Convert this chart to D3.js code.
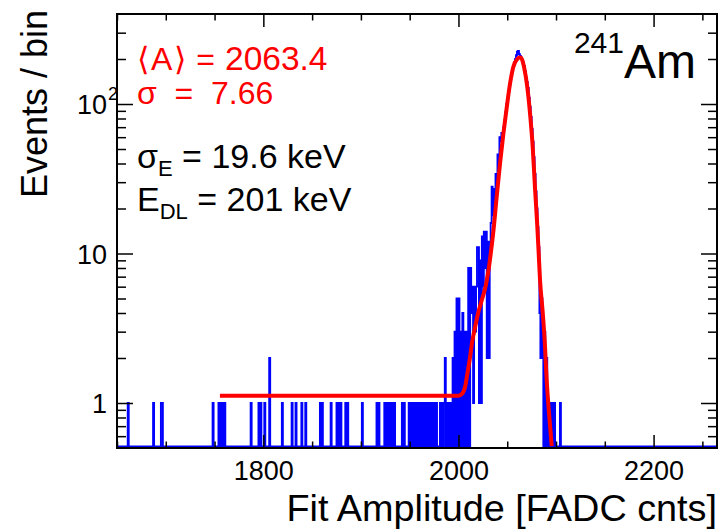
<!DOCTYPE html>
<html><head><meta charset="utf-8">
<script src="https://cdn.jsdelivr.net/npm/d3@7"></script>
<style>
body{margin:0;background:#fff;}
svg text{font-family:"Liberation Sans",Arial,Helvetica,sans-serif;}
</style></head><body>
<svg id="c" width="721" height="531"></svg>
<script>
// ---- data ----
const xDomain = [1650, 2265];
const yDomain = [0.5, 400];
const xMajorTicks = [1800, 2000, 2200];
const xMinorTicks = [1650, 1700, 1750, 1850, 1900, 1950, 2050, 2100, 2150, 2250];
const yMajorTicks = [1, 10, 100];
const yMinorTicks = [0.6, 0.7, 0.8, 0.9, 2, 3, 4, 5, 6, 7, 8, 9, 20, 30, 40, 50, 60, 70, 80, 90, 200, 300];
const binWidth = 1;
// non-empty bins: low edge (FADC counts) and content
const binAmp = [1661,1687,1695,1696,1748,1754,1756,1758,1760,1787,1795,1797,1801,1806,1819,1829,1833,1839,1843,
  1858,1860,1869,1875,1877,1879,1884,1886,1901,1916,1918,1924,1926,1928,1930,1932,1934,1942,1944,
  1949,1951,1953,1955,1957,1959,1961,1963,1965,1967,1969,1971,1973,1975,1977,1981,1983,1985,1986,1988,1990,1992,
  1994,1996,1998,2000,2002,2004,2006,2008,2010,2012,2013,2014,2015,2016,2017,2018,2019,2020,2021,2022,2023,
  2024,2025,2026,2027,2028,2029,2030,2031,2032,2033,2034,2035,2036,2037,2038,2039,2040,2041,2042,2043,2044,
  2045,2046,2047,2048,2049,2050,2051,2052,2053,2054,2055,2056,2057,2058,2059,2060,2061,2062,2063,2064,2065,
  2066,2067,2068,2069,2070,2071,2072,2073,2074,2075,2076,2077,2078,2079,2080,2081,2082,2083,2084,2085,2086,
  2088,2090,2092,2094,2096,2098,2104];
const binCount = [1,1,1,1,1,1,1,1,1,1,1,1,1,2,1,1,1,1,1,
  1,1,1,1,1,1,1,1,1,1,1,1,1,1,1,1,1,1,1,
  1,1,1,1,1,1,1,1,1,1,1,1,1,1,1,1,1,1,2,1,1,1,
  2,3,5,5,3,4,3,3,8,8,4,6,1,6,3,6,11,11,1,9,1,
  13,6,14,8,14,2,12,2,10,16,28,18,27,20,34,30,46,40,60,56,64,
  62,70,78,88,100,108,120,132,145,156,168,180,190,200,212,224,226,215,210,204,198,
  190,180,166,150,140,128,110,96,82,68,56,44,34,26,20,15,11,4,2,5,2,
  3,2,1,1,1,1,1];
// fitted curve, read point by point
const fitAmp = [1755.5,2000,2004,2007,2009,2011.5,2014,2017,2020,2024,2028,2031,2033.5,2036,2039.2,2042.6,2046,
  2049.5,2052.8,2056.2,2060.3,2062,2063.8,2065.5,2067.2,2070.6,2073.4,2076.1,2078.5,2080.5,2081.9,2083.6,
  2086.4,2088.7,2090.4,2092.8,2095.6];
const fitValue = [1.12,1.12,1.16,1.3,1.55,1.95,2.55,3.2,3.95,4.9,6.1,7.9,10.5,14.5,24,40,63,
  95,136,177,200,204,205,196,177,129,86,51.5,27,16.5,11.1,6.65,
  4.0,2.39,1.43,0.86,0.515];

// ---- drawing ----
const svg = d3.select('#c');
const m = {l:117, r:717, t:14, b:448};
const x = d3.scaleLinear().domain(xDomain).range([m.l, m.r]);
const y = d3.scaleLog().domain(yDomain).range([m.b, m.t]);

svg.append('defs').append('clipPath').attr('id','clip')
  .append('rect').attr('x',m.l).attr('y',m.t).attr('width',m.r-m.l).attr('height',m.b-m.t);

// histogram outline
const counts = new Map(binAmp.map((a,i)=>[a, binCount[i]]));
const nb = Math.round((xDomain[1]-xDomain[0])/binWidth);
const yZero = m.b - 1.5;
const p = d3.path();
for (let i=0;i<nb;i++){
  const a0 = xDomain[0] + i*binWidth;
  const c = counts.get(a0) || 0;
  const yy = c>0 ? y(c) : yZero;
  if (i===0) p.moveTo(x(a0), yy); else p.lineTo(x(a0), yy);
  p.lineTo(x(a0+binWidth), yy);
}
svg.append('path').attr('d', p.toString()).attr('fill','none')
  .attr('stroke','#0000ff').attr('stroke-width',1.9).attr('clip-path','url(#clip)');

// fit
const line = d3.line().x(d=>x(d[0])).y(d=>y(d[1])).curve(d3.curveMonotoneX);
svg.append('path').attr('d', line(fitAmp.map((a,i)=>[a, fitValue[i]])))
  .attr('fill','none').attr('stroke','#ff0000').attr('stroke-width',4).attr('clip-path','url(#clip)');

// axes (ticks inside the frame, on all four sides)
function styleAxis(g){ g.select('.domain').remove(); g.selectAll('line').attr('stroke','#000').attr('stroke-width',1.5); }
const tickFont = 27;
svg.append('g').attr('transform',`translate(0,${m.b})`)
  .call(d3.axisBottom(x).tickValues(xMajorTicks).tickSize(-13).tickFormat(d3.format('d')))
  .call(styleAxis).call(g=>g.selectAll('text').attr('font-size',tickFont).attr('fill','#000')
     .attr('y',32).attr('dy',null));
svg.append('g').attr('transform',`translate(0,${m.b})`)
  .call(d3.axisBottom(x).tickValues(xMinorTicks).tickSize(-6.5).tickFormat(''))
  .call(styleAxis);
svg.append('g').attr('transform',`translate(0,${m.t})`)
  .call(d3.axisTop(x).tickValues(xMajorTicks).tickSize(-13).tickFormat('')).call(styleAxis);
svg.append('g').attr('transform',`translate(0,${m.t})`)
  .call(d3.axisTop(x).tickValues(xMinorTicks).tickSize(-6.5).tickFormat('')).call(styleAxis);

svg.append('g').attr('transform',`translate(${m.l},0)`)
  .call(d3.axisLeft(y).tickValues(yMajorTicks).tickSize(-16).tickFormat(d=>d===100?'10':String(d)))
  .call(styleAxis).call(g=>{
    g.selectAll('text').attr('font-size',tickFont).attr('fill','#000').attr('x',-10).attr('dy','0.36em');
    g.selectAll('.tick').filter(d=>d===100).append('text')
      .attr('x',-9).attr('y',-5).attr('font-size',18).attr('fill','#000')
      .attr('text-anchor','start').text('2');
  });
svg.append('g').attr('transform',`translate(${m.l},0)`)
  .call(d3.axisLeft(y).tickValues(yMinorTicks).tickSize(-9).tickFormat('')).call(styleAxis);
svg.append('g').attr('transform',`translate(${m.r},0)`)
  .call(d3.axisRight(y).tickValues(yMajorTicks).tickSize(-16).tickFormat('')).call(styleAxis);
svg.append('g').attr('transform',`translate(${m.r},0)`)
  .call(d3.axisRight(y).tickValues(yMinorTicks).tickSize(-9).tickFormat('')).call(styleAxis);

// frame
svg.append('rect').attr('x',m.l).attr('y',m.t).attr('width',m.r-m.l).attr('height',m.b-m.t)
  .attr('fill','none').attr('stroke','#000').attr('stroke-width',2);

// axis titles
svg.append('text').attr('x',m.r).attr('y',521).attr('text-anchor','end')
  .attr('font-size',37.8).text('Fit Amplitude [FADC cnts]');
svg.append('text').attr('transform',`translate(47,10) rotate(-90)`).attr('text-anchor','end')
  .attr('font-size',36).text('Events / bin');

// annotations
const red = svg.append('g').attr('font-size',32).attr('fill','#ff0000');
const t1 = red.append('text').attr('x',137).attr('y',70);
t1.append('tspan').text('\u27E8');
t1.append('tspan').attr('dx',2).text('A');
t1.append('tspan').attr('dx',2).text('\u27E9');
t1.append('tspan').attr('dx',10).text('=');
t1.append('tspan').attr('dx',10).attr('font-size',33.5).text('2063.4');
red.append('text').attr('x',137).attr('y',104).attr('xml:space','preserve')
  .text('\u03C3  =  7.66');
const blk = svg.append('g').attr('font-size',34).attr('fill','#000');
const t3 = blk.append('text').attr('x',137).attr('y',168);
t3.append('tspan').text('\u03C3');
t3.append('tspan').attr('font-size',22).attr('dy',8).text('E');
t3.append('tspan').attr('dy',-8).text(' = 19.6 keV');
const t4 = blk.append('text').attr('x',137).attr('y',211);
t4.append('tspan').text('E');
t4.append('tspan').attr('font-size',22).attr('dy',8).text('DL');
t4.append('tspan').attr('dy',-8).text(' = 201 keV');

const iso = svg.append('text').attr('x',696).attr('y',78).attr('text-anchor','end');
iso.append('tspan').attr('font-size',30).attr('dy',-25).text('241');
iso.append('tspan').attr('font-size',48).attr('dy',25).text('Am');
</script>
</body></html>
